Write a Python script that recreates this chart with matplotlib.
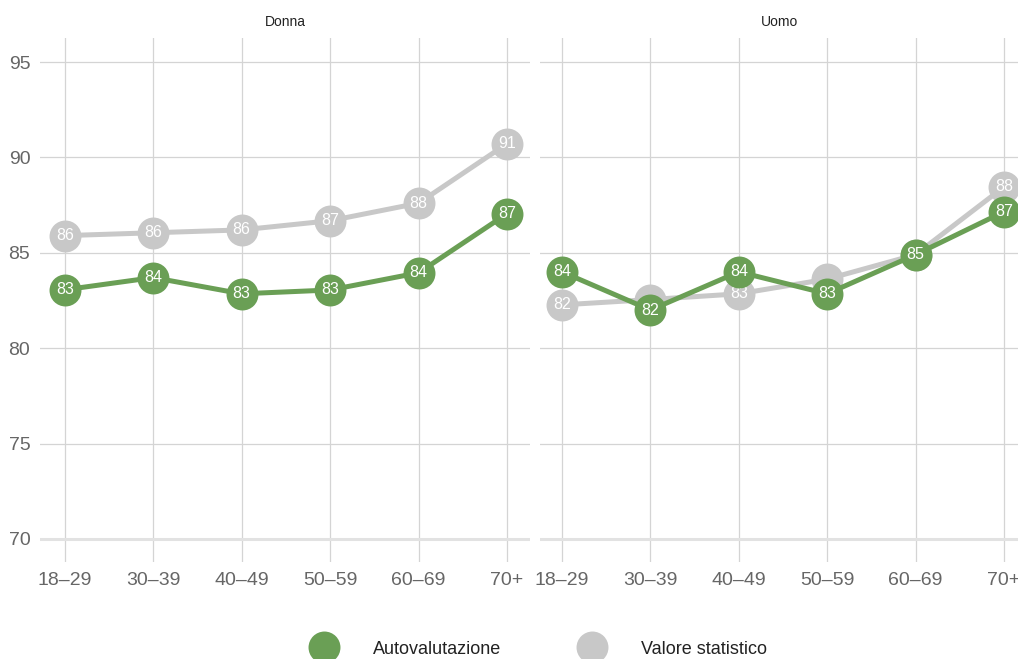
import matplotlib.pyplot as plt
from matplotlib.lines import Line2D

plt.rcParams['font.family'] = ['Liberation Sans', 'DejaVu Sans']

ages = ["18\u201329", "30\u201339", "40\u201349", "50\u201359", "60\u201369", "70+"]
panels = ["Donna", "Uomo"]

# autovalutazione (self assessment)
auto_donna = [83.06, 83.7, 82.85, 83.05, 83.95, 87.05]
auto_uomo = [84.0, 82.0, 84.0, 82.85, 84.9, 87.15]
# valore statistico
stat_donna = [85.9, 86.05, 86.2, 86.68, 87.6, 90.72]
stat_uomo = [82.27, 82.55, 82.85, 83.62, 84.9, 88.45]

green = "#6a9f55"
grey = "#c8c8c8"
yticks = [70, 75, 80, 85, 90, 95]

fig = plt.figure(figsize=(10.18, 6.59), dpi=100)
W, H = 1018, 659
boxes = [(40, 530), (540, 1018)]
xlims = [(-0.28, 5.26), (-0.25, 5.16)]
top, bottom = 38, 562

data = {"Donna": (auto_donna, stat_donna), "Uomo": (auto_uomo, stat_uomo)}

for i, name in enumerate(panels):
    x0, x1 = boxes[i]
    ax = fig.add_axes([x0 / W, 1 - bottom / H, (x1 - x0) / W, (bottom - top) / H])
    auto, stat = data[name]
    xs = list(range(len(ages)))
    for vals, other, col, z in [(stat, auto, grey, 3), (auto, None, green, 5)]:
        ax.plot(xs, vals, color=col, lw=3.6, zorder=z, solid_capstyle="round")
        ax.plot(xs, vals, "o", color=col, ms=23, mew=0, zorder=z + 0.5)
        for k, (x, v) in enumerate(zip(xs, vals)):
            # grey label hidden under the green point when they overlap
            if other is not None and abs(other[k] - v) < 1.0:
                continue
            ax.text(x, v, "%d" % round(v), color="white", fontsize=11.5,
                    ha="center", va="center", zorder=z + 1)
    ax.set_xlim(*xlims[i])
    ax.set_ylim(68.79, 96.26)
    ax.set_xticks(xs)
    ax.set_xticklabels(ages, fontsize=14, color="#666666")
    ax.set_yticks(yticks)
    if i == 0:
        ax.set_yticklabels([str(t) for t in yticks], fontsize=14, color="#666666")
    else:
        ax.set_yticklabels([])
    ax.tick_params(length=0, pad=7)
    ax.grid(True, color="#d4d4d4", lw=0.9)
    ax.axhline(70, color="#e2e2e2", lw=2.2, zorder=1)
    ax.set_axisbelow(True)
    for s in ax.spines.values():
        s.set_visible(False)
    ax.set_title(name, fontsize=10, color="#222222", pad=9)

handles = [Line2D([], [], marker="o", ls="", color=green, ms=23, mew=0),
           Line2D([], [], marker="o", ls="", color=grey, ms=23, mew=0)]
fig.legend(handles, ["Autovalutazione", "Valore statistico"], loc="center",
           bbox_to_anchor=(0.527, 1 - 649 / H), ncol=2, frameon=False,
           fontsize=13, handletextpad=1.7, columnspacing=4.0,
           labelcolor="#222222")

fig.savefig("out.png", dpi=100)
